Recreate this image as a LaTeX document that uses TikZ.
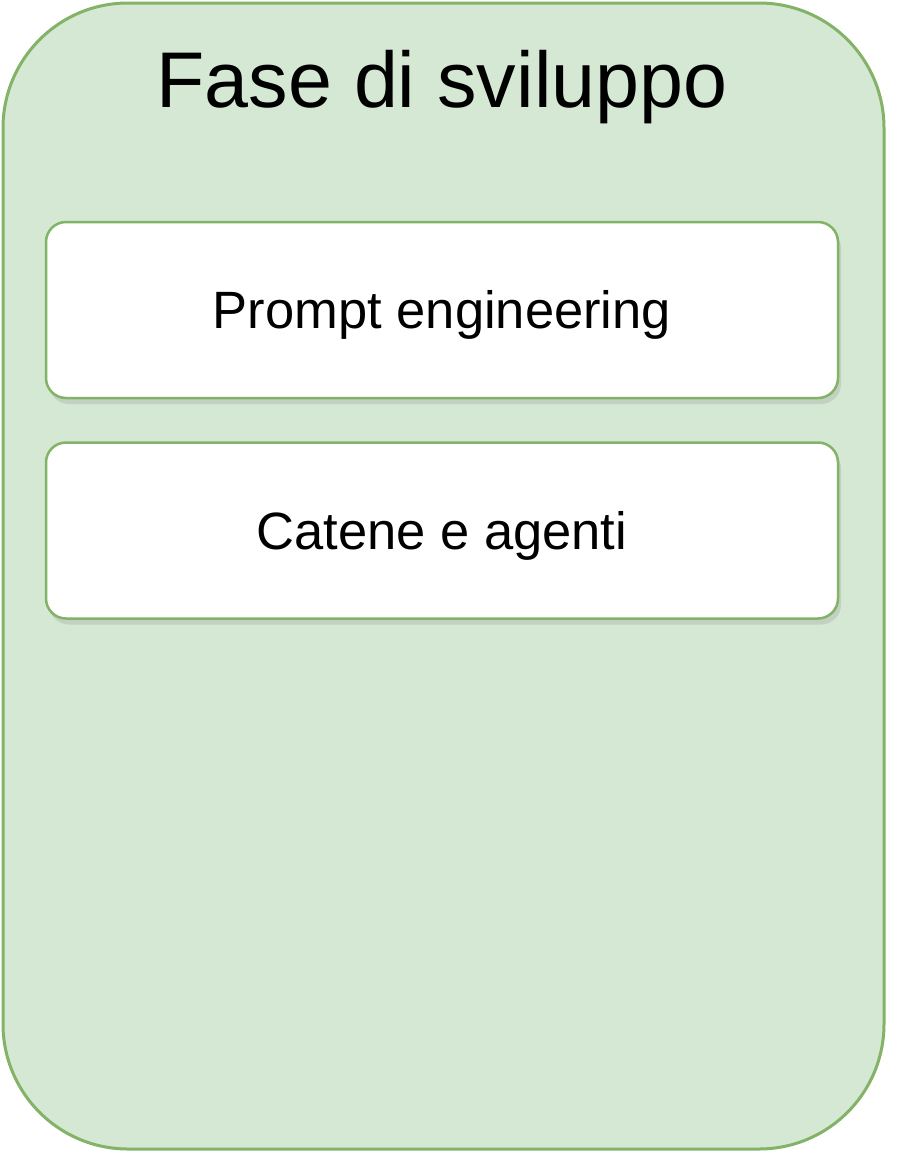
\documentclass[tikz,border=0pt]{standalone}
\usepackage{fontspec}
\setmainfont{Liberation Sans}
\usetikzlibrary{shadows}
\definecolor{gfill}{HTML}{D5E8D4}
\definecolor{gline}{HTML}{82B366}
\begin{document}
\begin{tikzpicture}[x=1pt,y=-1pt,
  panel/.style={draw=gline, fill=gfill, line width=3pt, rounded corners=125pt},
  itembox/.style={draw=gline, fill=white, line width=2.5pt, rounded corners=20pt,
    minimum width=792pt, minimum height=176pt, inner sep=0pt,
    text height=37.8pt, text depth=0pt,
    font=\fontsize{52.5}{60}\selectfont,
    drop shadow={opacity=0.22, shadow xshift=3pt, shadow yshift=-6pt}},
  titletext/.style={inner sep=0pt, text height=56.9pt, text depth=0pt,
    font=\fontsize{79}{90}\selectfont}]
\useasboundingbox (0,0) rectangle (922,1152);
\fill[white] (0,0) rectangle (922,1152);
\draw[panel] (3,3) rectangle (884,1149);
\node[titletext] (title) at (442,79) {Fase di sviluppo};
\node[itembox] (prompt) at (442,310) {Prompt engineering};
\node[itembox] (catene) at (442,530.5) {Catene e agenti};
\end{tikzpicture}
\end{document}
